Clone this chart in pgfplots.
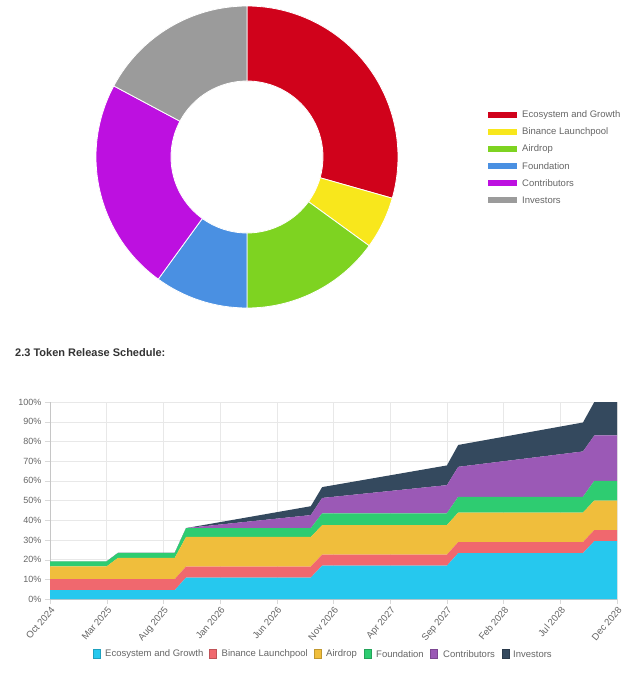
\documentclass[border=0pt]{standalone}
\usepackage{pgfplots}
\pgfplotsset{compat=1.18}
\usepackage{pgfplotstable}
\usepackage{fontspec}
\setmainfont{Liberation Sans}

% donut colours
\definecolor{dEco}{HTML}{D0021B}
\definecolor{dBin}{HTML}{F8E71C}
\definecolor{dAir}{HTML}{7ED321}
\definecolor{dFnd}{HTML}{4A90E2}
\definecolor{dCon}{HTML}{BD10E0}
\definecolor{dInv}{HTML}{9B9B9B}
% area colours
\definecolor{aEco}{RGB}{38,200,238}
\definecolor{aBin}{RGB}{240,104,110}
\definecolor{aAir}{RGB}{240,190,60}
\definecolor{aFnd}{RGB}{46,204,113}
\definecolor{aCon}{RGB}{155,89,182}
\definecolor{aInv}{RGB}{52,73,94}
\definecolor{txt}{HTML}{666666}
\definecolor{head}{HTML}{333333}

% months after Oct 2024, unlocked share of supply (%)
\pgfplotstableread{
m  eco  bin  air  fnd  con  inv
0  4.5  5.6  6.5  2.5  0    0
5  4.5  5.6  6.5  2.5  0    0
6  4.5  5.6  10.8 2.5  0    0
11 4.5  5.6  10.8 2.5  0    0
12 10.9 5.6  15   4.5  0    0
23 10.9 5.6  15   4.5  6.6  4.5
24 16.9 5.6  15   6.0  7.8  5.5
35 16.9 5.6  15   6.0  14.3 10.0
36 23.3 5.6  15   8.0  15.2 11.1
47 23.3 5.6  15   8.0  23.0 14.7
48 29.4 5.6  15   10   23.0 17.0
50 29.4 5.6  15   10   23.0 17.0
}\release

\pgfplotsset{relaxis/.style={
    at={(50pt,-599pt)}, anchor=south west,
    scale only axis, width=567pt, height=197pt,
    xmin=0, xmax=50, ymin=0, ymax=100}}

\begin{document}
\begin{tikzpicture}
\path[use as bounding box, fill=white] (0pt,0pt) rectangle (634pt,-675pt);

% allocation donut
\begin{scope}[shift={(247pt,-157pt)}]
\gdef\angstart{90}
\foreach \v/\c in {29.4/dEco, 5.6/dBin, 15/dAir, 10/dFnd, 22.8/dCon, 17.2/dInv}{
  \pgfmathsetmacro\angend{\angstart-3.6*\v}
  \filldraw[fill=\c, draw=white, line width=0.8pt]
    (\angstart:76pt) -- (\angstart:151pt)
    arc[start angle=\angstart, end angle=\angend, radius=151pt]
    -- (\angend:76pt)
    arc[start angle=\angend, end angle=\angstart, radius=76pt] -- cycle;
  \xdef\angstart{\angend}
}
\end{scope}

\begin{scope}[x=1pt,y=-1pt]
\foreach \t/\c [count=\i] in {Ecosystem and Growth/dEco, Binance Launchpool/dBin,
    Airdrop/dAir, Foundation/dFnd, Contributors/dCon, Investors/dInv}{
  \pgfmathsetmacro\yy{115+17*(\i-1)}
  \fill[\c] (488,\yy-3) rectangle (517,\yy+3);
  \node[anchor=west, inner sep=0, font=\fontsize{9.5}{11}\selectfont, text=txt] at (522,\yy) {\t};
}

\node[anchor=west, inner sep=0, font=\bfseries\fontsize{11}{13}\selectfont, text=head]
  at (15,353) {2.3 Token Release Schedule:};

% bottom legend
\foreach \sx/\tx/\t/\c in {93.5/105/Ecosystem and Growth/aEco, 209/221.5/Binance Launchpool/aBin,
    314/326/Airdrop/aAir, 364/376/Foundation/aFnd, 430/443/Contributors/aCon, 502/513/Investors/aInv}{
  \filldraw[fill=\c, draw=\c!80!black, line width=0.4pt] (\sx,649.5) rectangle (\sx+7,658.5);
  \node[anchor=west, inner sep=0, font=\fontsize{9.5}{11}\selectfont, text=txt] at (\tx,654) {\t};
}
\end{scope}

% frame, grid and ticks first
\begin{axis}[
    relaxis,
    axis x line=bottom, axis y line=left,
    axis line style={-, draw=gray!45},
    xtick={0,5,...,50},
    xticklabels={Oct 2024, Mar 2025, Aug 2025, Jan 2026, Jun 2026, Nov 2026,
                 Apr 2027, Sep 2027, Feb 2028, Jul 2028, Dec 2028},
    ytick={0,10,...,100},
    yticklabel={\pgfmathprintnumber{\tick}\%},
    /pgf/number format/assume math mode=true,
    ticklabel style={font=\fontsize{9}{10}\selectfont, text=txt},
    x tick label style={rotate=50, anchor=north east, inner sep=1pt, font=\fontsize{9.5}{10}\selectfont},
    grid=major, major grid style={draw=gray!18},
    tick align=outside, major tick length=5pt, tick style={draw=gray!30},
]
\end{axis}

% stacked areas over the grid
\begin{axis}[relaxis, hide axis, stack plots=y, area style]
\addplot[fill=aEco, draw=none] table[x=m, y=eco] {\release} \closedcycle;
\addplot[fill=aBin, draw=none] table[x=m, y=bin] {\release} \closedcycle;
\addplot[fill=aAir, draw=none] table[x=m, y=air] {\release} \closedcycle;
\addplot[fill=aFnd, draw=none] table[x=m, y=fnd] {\release} \closedcycle;
\addplot[fill=aCon, draw=none] table[x=m, y=con] {\release} \closedcycle;
\addplot[fill=aInv, draw=none] table[x=m, y=inv] {\release} \closedcycle;
\end{axis}
\end{tikzpicture}
\end{document}
